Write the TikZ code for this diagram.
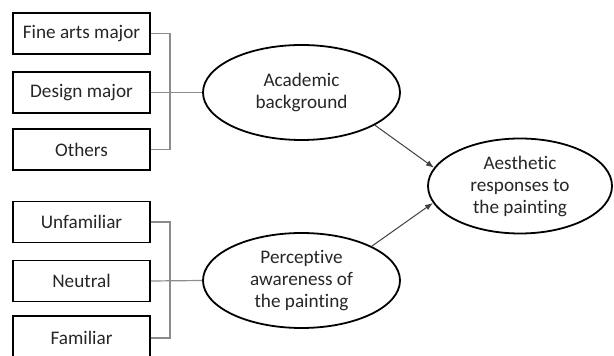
\documentclass[tikz,border=0pt]{standalone}
\usepackage{fontspec}
\setmainfont[Ligatures=NoCommon]{Carlito}
\usetikzlibrary{shapes.geometric,arrows.meta}
\definecolor{txt}{HTML}{262626}
\definecolor{brk}{HTML}{8C8C8C}
\definecolor{arw}{HTML}{404040}
\begin{document}
\begin{tikzpicture}[x=0.5pt,y=-0.5pt,
    font=\fontsize{9.6}{11}\selectfont, text=txt]

      \useasboundingbox (0,0) rectangle (614,356);

      \begin{scope}[every node/.style={rectangle,draw,line width=0.9pt,
          minimum width=68.5pt,minimum height=20.5pt,inner sep=0pt}]
        \node (fine)    at (81.5,33.5)  {Fine arts major};
        \node (design)  at (81.5,92.5)  {Design major};
        \node (others)  at (81.5,149.5) {Others};
        \node (unfam)   at (81.5,222)   {Unfamiliar};
        \node (neutral) at (81.5,281)   {Neutral};
        \node[minimum height=22pt] (fam) at (81.5,338) {Familiar};
      \end{scope}

      \begin{scope}[every node/.style={ellipse,draw,line width=0.9pt,
          minimum height=47.5pt,inner sep=0pt,align=center}]
        \node[minimum width=98.5pt] (acad)   at (301.5,92.5) {Academic\\background};
        \node[minimum width=98.5pt] (percep) at (301.5,280.5) {Perceptive\\awareness of\\the painting};
        \node[minimum width=92pt]   (aesth)  at (520,186)    {Aesthetic\\responses to\\the painting};
      \end{scope}

      \coordinate (jA) at (170,92.5);
      \coordinate (jB) at (170,281);

      \begin{scope}[brk,line width=0.6pt]
        \draw (fine.east) -| (jA) |- (others.east);
        \draw (design.east) -- (acad.west);
        \draw (unfam.east) -| (jB) |- (fam.east);
        \draw (neutral.east) -- (percep.west);
      \end{scope}

      \begin{scope}[every edge/.style={draw,arw,line width=0.5pt,
          -{Latex[length=4pt,width=3pt]}}]
        \path (acad.-24)  edge (aesth.168);
        \path (percep.26) edge (aesth.191);
      \end{scope}

    \end{tikzpicture}
\end{document}
